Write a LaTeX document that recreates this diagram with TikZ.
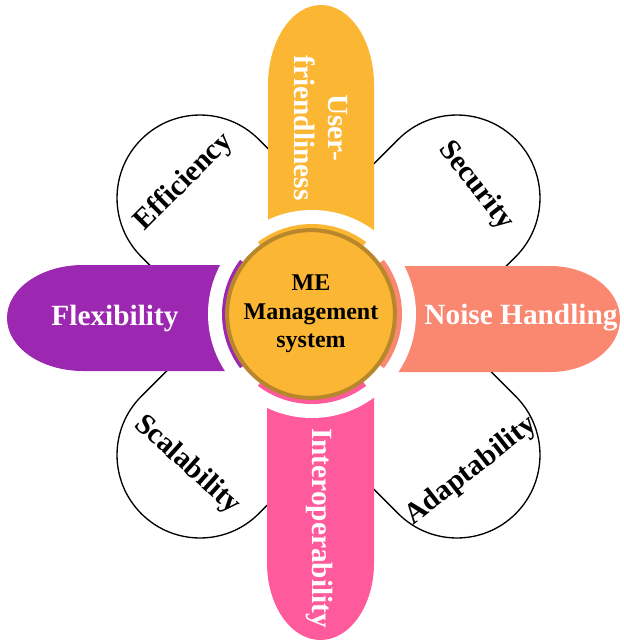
\documentclass[tikz,border=0pt]{standalone}
\usepackage{fontspec}
\setmainfont{Liberation Serif}
\definecolor{petalyellow}{HTML}{FBB733}
\definecolor{petalpurple}{HTML}{9C27B0}
\definecolor{petalorange}{HTML}{FA8770}
\definecolor{petalpink}{HTML}{FF5A9C}
\definecolor{hubbrown}{HTML}{B8862B}
\tikzset{
  lobe/.style={draw=black, line width=1pt, fill=white},
  bigtext/.style={font=\bfseries\fontsize{22}{25}\selectfont, align=center},
  petaltext/.style={bigtext, text=white},
  lobetext/.style={bigtext, text=black},
}
\begin{document}
\begin{tikzpicture}[x=0.75pt, y=0.75pt]
  \useasboundingbox (0,0) rectangle (624,-643);
  \foreach \ang in {45,135,225,315}
    \draw[lobe, shift={(328.5,-326.5)}, rotate=\ang]
      (0,83) -- (181.7,83) arc[start angle=90, end angle=-90, radius=83] -- (0,-83) -- cycle;
  \fill[petalyellow] (268,-314) -- (268,-85)
    arc[start angle=180, end angle=0, x radius=53, y radius=80] -- (374,-314) -- cycle;
  \fill[petalpurple] (312,-265) -- (83,-265)
    arc[start angle=90, end angle=270, x radius=76, y radius=53] -- (312,-371) -- cycle;
  \fill[petalorange] (312,-266) -- (550,-266)
    arc[start angle=90, end angle=-90, x radius=70, y radius=53] -- (312,-372) -- cycle;
  \fill[petalpink] (267,-314) -- (267,-563)
    arc[start angle=180, end angle=360, x radius=53.5, y radius=77] -- (374,-314) -- cycle;
  \fill[white] (312,-314) circle[radius=104];
  \begin{scope}[shift={(312,-314)}]
    \foreach \ang/\col in {90/petalyellow, 180/petalpurple, 0/petalorange, 270/petalpink}
      \fill[\col] ({\ang-37}:70) arc[start angle=\ang-37, end angle=\ang+37, radius=70]
        -- ({\ang+37}:90) arc[start angle=\ang+37, end angle=\ang-37, radius=90] -- cycle;
  \end{scope}
  \node[circle, draw=hubbrown, line width=3pt, fill=petalyellow, minimum size=111pt,
    font=\bfseries\fontsize{18}{21.4}\selectfont, align=center] (hub) at (311,-314)
    {ME\\Management\\system};
  \node[petaltext, rotate=-90] (user) at (321,-128) {User-\\friendliness};
  \node[petaltext] (flex) at (115,-318) {Flexibility};
  \node[petaltext] (noise) at (521,-318) {Noise Handling};
  \node[petaltext, rotate=-90] (inter) at (320,-528) {Interoperability};
  \node[lobetext, rotate=45] (eff) at (184,-182) {Efficiency};
  \node[lobetext, rotate=-52] (sec) at (476,-186) {Security};
  \node[lobetext, rotate=-42] (scal) at (187,-465) {Scalability};
  \node[lobetext, rotate=38] (adapt) at (471,-471) {Adaptability};
\end{tikzpicture}
\end{document}
